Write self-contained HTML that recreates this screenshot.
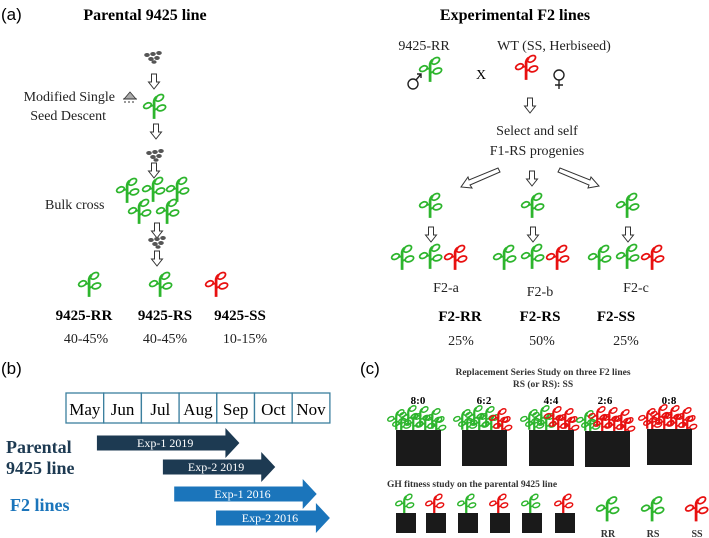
<!DOCTYPE html>
<html><head><meta charset="utf-8"><style>
html,body{margin:0;padding:0;background:#fff}
svg{display:block}
.s{font-family:"Liberation Serif",serif}
.a{font-family:"Liberation Sans",sans-serif}
</style></head><body>
<svg id="fig" width="709" height="538" viewBox="0 0 709 538" xmlns="http://www.w3.org/2000/svg">
<defs>
<symbol id="plant" viewBox="0 0 24 28" overflow="visible">
<path d="M11 27 L11 9 Q11 5 14 3" fill="none" stroke="currentColor" stroke-width="3"/>
<ellipse cx="17" cy="4" rx="4.8" ry="3" transform="rotate(-35 17 4)" fill="none" stroke="currentColor" stroke-width="1.9"/>
<path d="M11 17 L15 16" stroke="currentColor" stroke-width="2.2"/>
<ellipse cx="19" cy="15" rx="4.8" ry="2.9" transform="rotate(-20 19 15)" fill="none" stroke="currentColor" stroke-width="1.9"/>
<path d="M11 12 L7 13" stroke="currentColor" stroke-width="2.2"/>
<ellipse cx="3.8" cy="12.5" rx="4.4" ry="2.7" transform="rotate(-25 3.8 12.5)" fill="none" stroke="currentColor" stroke-width="1.9"/>
</symbol>
<symbol id="darr" viewBox="0 0 12 16" overflow="visible">
<path d="M3.5 0 H8.5 V8 H11.5 L6 15 L0.5 8 H3.5 Z" fill="#fff" stroke="#333" stroke-width="1"/>
</symbol>
<symbol id="seeds" viewBox="0 0 20 12" overflow="visible">
<g fill="#555"><ellipse cx="3" cy="4" rx="2.8" ry="2"/><ellipse cx="9" cy="3" rx="2.8" ry="2"/><ellipse cx="15" cy="2" rx="2.8" ry="2"/><ellipse cx="7" cy="8" rx="2.8" ry="2"/><ellipse cx="13" cy="7" rx="2.8" ry="2"/><ellipse cx="10" cy="11" rx="2.6" ry="1.8"/></g>
</symbol>
</defs>

<!-- Panel a -->
<g>
<text class="a" x="1" y="20" font-size="17">(a)</text>
<text class="s" x="145" y="20" font-size="16" font-weight="bold" text-anchor="middle">Parental 9425 line</text>
<use href="#seeds" x="144" y="51" width="20" height="12"/>
<use href="#darr" x="148" y="74" width="12" height="16"/>
<text class="s" x="115" y="101" font-size="14" text-anchor="end" fill="#222">Modified Single</text>
<text class="s" x="106" y="120" font-size="14" text-anchor="end" fill="#222">Seed Descent</text>
<path d="M124 99 L130 92 L136 99 Z" fill="#aaa" stroke="#333" stroke-width="0.8"/>
<path d="M123 99 H137 M124 102 h2 M128 102 h2 M132 102 h2" stroke="#333" stroke-width="1"/>
<use href="#plant" x="144" y="94" width="22" height="26" color="#2db52d"/>
<use href="#darr" x="150" y="124" width="12" height="16"/>
<use href="#seeds" x="146" y="149" width="20" height="12"/>
<use href="#darr" x="148" y="163" width="12" height="16"/>
<text class="s" x="45" y="209" font-size="14" fill="#222">Bulk cross</text>
<use href="#plant" x="117" y="178" width="22" height="26" color="#2db52d"/>
<use href="#plant" x="143" y="177" width="22" height="26" color="#2db52d"/>
<use href="#plant" x="167" y="177" width="22" height="26" color="#2db52d"/>
<use href="#plant" x="129" y="199" width="22" height="26" color="#2db52d"/>
<use href="#plant" x="157" y="199" width="22" height="26" color="#2db52d"/>
<use href="#darr" x="151" y="223" width="12" height="16"/>
<use href="#seeds" x="148" y="236" width="20" height="12"/>
<use href="#darr" x="151" y="251" width="12" height="16"/>
<use href="#plant" x="79" y="272" width="22" height="26" color="#2db52d"/>
<use href="#plant" x="150" y="272" width="22" height="26" color="#2db52d"/>
<use href="#plant" x="206" y="272" width="22" height="26" color="#e81010"/>
<g class="s" font-size="15" font-weight="bold" text-anchor="middle">
<text x="84" y="320">9425-RR</text>
<text x="165" y="320">9425-RS</text>
<text x="240" y="320">9425-SS</text>
</g>
<g class="s" font-size="14" text-anchor="middle" fill="#222">
<text x="86" y="343">40-45%</text>
<text x="165" y="343">40-45%</text>
<text x="245" y="343">10-15%</text>
</g>
</g>

<!-- Right a -->
<g>
<text class="s" x="515" y="20" font-size="16" font-weight="bold" text-anchor="middle">Experimental F2 lines</text>
<text class="s" x="424" y="50" font-size="14" text-anchor="middle" fill="#222">9425-RR</text>
<text class="s" x="554" y="50" font-size="14" text-anchor="middle" fill="#222">WT (SS, Herbiseed)</text>
<g stroke="#222" stroke-width="1.4" fill="none"><circle cx="413" cy="84" r="5"/><path d="M416 80 L421 74 M417 74 H421 V78"/></g>
<use href="#plant" x="420" y="57" width="22" height="26" color="#2db52d"/>
<text class="s" x="481" y="79" font-size="14" text-anchor="middle">X</text>
<use href="#plant" x="516" y="55" width="22" height="26" color="#e81010"/>
<g stroke="#222" stroke-width="1.4" fill="none"><circle cx="559" cy="75" r="5"/><path d="M559 80 V89 M555 85 H563"/></g>
<use href="#darr" x="524" y="97" width="12" height="18"/>
<text class="s" x="537" y="135" font-size="14" text-anchor="middle" fill="#222">Select and self</text>
<text class="s" x="537" y="155" font-size="14" text-anchor="middle" fill="#222">F1-RS progenies</text>
<path d="M500 172 L498 168 L469 180 L468 177 L461 187 L472 188 L470 185 Z" fill="#fff" stroke="#333" stroke-width="1"/>
<use href="#darr" x="526" y="171" width="12" height="16"/>
<path d="M558 172 L560 168 L590 180 L591 177 L599 186 L588 188 L589 185 Z" fill="#fff" stroke="#333" stroke-width="1"/>
<g id="f2groups"></g>
<g class="s" font-size="14" text-anchor="middle" fill="#222">
<text x="446" y="292">F2-a</text>
<text x="540" y="296">F2-b</text>
<text x="636" y="292">F2-c</text>
</g>
<g class="s" font-size="15" font-weight="bold" text-anchor="middle">
<text x="460" y="321">F2-RR</text>
<text x="540" y="321">F2-RS</text>
<text x="616" y="321">F2-SS</text>
</g>
<g class="s" font-size="14" text-anchor="middle" fill="#222">
<text x="461" y="345">25%</text>
<text x="542" y="345">50%</text>
<text x="626" y="345">25%</text>
</g>
</g>

<!-- Panel b -->
<g>
<text class="a" x="1" y="374" font-size="17">(b)</text>
<g id="months"></g>
<text class="s" x="6" y="453" font-size="18" font-weight="bold" fill="#1d3a52">Parental</text>
<text class="s" x="6" y="474" font-size="18" font-weight="bold" fill="#1d3a52">9425 line</text>
<text class="s" x="10" y="511" font-size="18" font-weight="bold" fill="#1b75bb">F2 lines</text>
<g id="arrows"></g>
</g>

<!-- Panel c -->
<g>
<text class="a" x="360" y="374" font-size="17">(c)</text>
<text class="s" x="543" y="375" font-size="9.5" font-weight="bold" fill="#333" text-anchor="middle">Replacement Series Study on three F2 lines</text>
<text class="s" x="543" y="387" font-size="9.5" font-weight="bold" fill="#333" text-anchor="middle">RS (or RS): SS</text>
<g id="pots"></g>
<text class="s" x="387" y="487" font-size="9.5" font-weight="bold" fill="#333">GH fitness study on the  parental 9425 line</text>
<g id="ghpots"></g>
<g class="s" font-size="10" font-weight="bold" fill="#333" text-anchor="middle">
<text x="608" y="537">RR</text>
<text x="653" y="537">RS</text>
<text x="697" y="537">SS</text>
</g>
</g>
</svg>
<script>
const NS='http://www.w3.org/2000/svg';
const G='#2db52d', R='#e81010';
function plant(parent,x,y,w,h,c){const u=document.createElementNS(NS,'use');u.setAttribute('href','#plant');u.setAttribute('x',x);u.setAttribute('y',y);u.setAttribute('width',w);u.setAttribute('height',h);u.setAttribute('color',c);


parent.appendChild(u);return u;}
// F2 groups
const f2=document.getElementById('f2groups');
const gx=[431,533,628];
gx.forEach(cx=>{
  plant(f2,cx-11,193,22,26,G);
  const a=document.createElementNS(NS,'use');a.setAttribute('href','#darr');a.setAttribute('x',cx-6);a.setAttribute('y',227);a.setAttribute('width',12);a.setAttribute('height',16);
  
  
  f2.appendChild(a);
  plant(f2,cx-39,245,22,26,G);plant(f2,cx-11,244,22,26,G);plant(f2,cx+14,245,22,26,R);
});
// Months
const months=['May','Jun','Jul','Aug','Sep','Oct','Nov'];
const mt=document.getElementById('months');
const mx0=66,mw=37.7;
months.forEach((m,i)=>{
  const r=document.createElementNS(NS,'rect');r.setAttribute('x',mx0+i*mw);r.setAttribute('y',393);r.setAttribute('width',mw);r.setAttribute('height',30);r.setAttribute('fill','#fff');r.setAttribute('stroke','#3b7f9e');r.setAttribute('stroke-width','1.3');
  
  
  mt.appendChild(r);
  const t=document.createElementNS(NS,'text');t.setAttribute('x',mx0+i*mw+mw/2);t.setAttribute('y',415);t.setAttribute('text-anchor','middle');t.setAttribute('class','s');t.setAttribute('font-size','17');t.textContent=m;
  
  
  mt.appendChild(t);
});
// Experiment arrows: start/end in month units
const expNames=['Exp-1 2019','Exp-2 2019','Exp-1 2016','Exp-2 2016'];
const expStart=[0.82,2.57,2.87,3.98];
const expEnd=[4.6,5.55,6.65,7.0];
const expColor=['#1d3a52','#1d3a52','#1b75bb','#1b75bb'];
const expY=[443,467,494,518];
const ar=document.getElementById('arrows');
expNames.forEach((n,i)=>{
  const x0=mx0+expStart[i]*mw, x1=mx0+expEnd[i]*mw, y=expY[i], hl=14;
  const p=document.createElementNS(NS,'path');
  p.setAttribute('d',`M${x0} ${y-7.5} H${x1-hl} V${y-15} L${x1} ${y} L${x1-hl} ${y+15} V${y+7.5} H${x0} Z`);
  p.setAttribute('fill',expColor[i]);
  
  
  ar.appendChild(p);
  const t=document.createElementNS(NS,'text');t.setAttribute('x',(x0+x1-hl)/2+4);t.setAttribute('y',y+4);t.setAttribute('text-anchor','middle');t.setAttribute('class','s');t.setAttribute('font-size','12');t.setAttribute('fill','#fff');t.textContent=n;
  
  
  ar.appendChild(t);
});
// Replacement series pots
const ratios=['8:0','6:2','4:4','2:6','0:8'];
const greenCount=[8,6,4,2,0];
const potX=[396,462,529,585,647];
const potY=[430,430,430,431,429];
const pots=document.getElementById('pots');
ratios.forEach((lab,i)=>{
  const x=potX[i];
  const t=document.createElementNS(NS,'text');t.setAttribute('x',x+22+(i==3?-2:0));t.setAttribute('y',404);t.setAttribute('text-anchor','middle');t.setAttribute('class','s');t.setAttribute('font-size','11');t.setAttribute('font-weight','bold');t.textContent=lab;
  
  
  pots.appendChild(t);
  const pos=[[-8,1],[4,-3],[16,-2],[28,0],[-3,6],[9,5],[21,6],[32,8]];
  const order=[0,4,1,5,2,6,3,7];
  order.forEach((k,j)=>{
    const c=j<greenCount[i]?G:R;
    plant(pots,x+pos[k][0],potY[i]-24+pos[k][1],18,26,c);
  });
  const r=document.createElementNS(NS,'rect');r.setAttribute('x',x);r.setAttribute('y',potY[i]);r.setAttribute('width',45);r.setAttribute('height',36);r.setAttribute('fill','#1a1a1a');
  
  
  pots.appendChild(r);
});
// GH pots
const ghX=[396,426,458,490,522,555];
const ghColorsReal=[G,R,G,R,G,R];
const gh=document.getElementById('ghpots');
ghX.forEach((x,i)=>{
  plant(gh,x,494,18,21,ghColorsReal[i]);
  const r=document.createElementNS(NS,'rect');r.setAttribute('x',x);r.setAttribute('y',513);r.setAttribute('width',20);r.setAttribute('height',20);r.setAttribute('fill','#1a1a1a');
  
  
  gh.appendChild(r);
});
plant(gh,597,496,22,27,G);plant(gh,642,496,22,27,G);plant(gh,686,496,22,27,R);
</script>
</body></html>
